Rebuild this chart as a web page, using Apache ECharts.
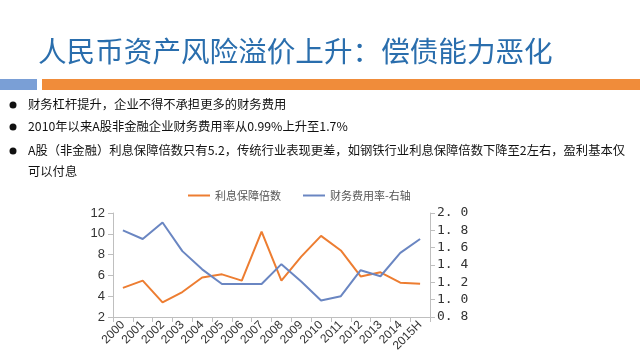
<!DOCTYPE html>
<html><head><meta charset="utf-8">
<script src="https://cdn.jsdelivr.net/npm/echarts@6/dist/echarts.min.js"></script>
<style>html,body{margin:0;padding:0;background:#fff}#c{width:640px;height:360px}</style>
</head><body><div id="c"></div>
<script>
const categories = ['2000','2001','2002','2003','2004','2005','2006','2007','2008','2009','2010','2011','2012','2013','2014','2015H'];
const interestCoverage = [4.8,5.5,3.4,4.4,5.8,6.1,5.5,10.2,5.5,7.8,9.8,8.4,5.9,6.3,5.3,5.2];
const financeCostRate = [1.80,1.70,1.89,1.56,1.35,1.18,1.18,1.18,1.41,1.21,0.99,1.04,1.34,1.27,1.54,1.70];
const seriesNames = ['利息保障倍数','财务费用率-右轴'];
const titleText = '人民币资产风险溢价上升：偿债能力恶化';
const bullets = ['财务杠杆提升，企业不得不承担更多的财务费用','2010年以来A股非金融企业财务费用率从0.99%上升至1.7%','A股（非金融）利息保障倍数只有5.2，传统行业表现更差，如钢铁行业利息保障倍数下降至2左右，盈利基本仅','可以付息'];

const font = '"Noto Sans CJK SC","Noto Sans",sans-serif';
const chart = echarts.init(document.getElementById('c'));
const bulletY = [105,127,151,172];
const graphics = [
  {type:'text', left:38, top:37, style:{text:titleText, font:'28.6px '+font, fill:'#2a6ead'}},
  {type:'rect', shape:{x:0,y:79,width:37,height:11}, style:{fill:'#7a9fd6'}},
  {type:'rect', shape:{x:42,y:79,width:598,height:11}, style:{fill:'#f08c3a'}}
];
bullets.forEach((t,i)=>{
  graphics.push({type:'text', left:28, top:bulletY[i]-7, style:{text:t, font:'12.3px '+font, fill:'#111'}});
  if(i<3) graphics.push({type:'circle', shape:{cx:13, cy:bulletY[i], r:3.5}, style:{fill:'#111'}});
});
chart.setOption({
  animation:false,
  backgroundColor:'#fff',
  graphic: graphics,
  legend:{top:185, left:183, itemWidth:22, itemHeight:2, itemGap:22, icon:'rect',
    textStyle:{fontFamily:font, fontSize:11, color:'#555'}, data:seriesNames},
  grid:{left:113, right:210, top:213, bottom:43},
  xAxis:{type:'category', data:categories, boundaryGap:true,
    axisLine:{lineStyle:{color:'#bfbfbf'}}, axisTick:{show:true, lineStyle:{color:'#bfbfbf'}},
    axisLabel:{rotate:45, fontSize:12, color:'#333', fontFamily:'Liberation Sans, Arial', margin:6, interval:0}},
  yAxis:[
    {type:'value', min:2, max:12, interval:2, splitLine:{show:false},
     axisLine:{show:true, lineStyle:{color:'#bfbfbf'}}, axisTick:{show:true, lineStyle:{color:'#bfbfbf'}},
     axisLabel:{fontSize:13, color:'#333', fontFamily:'Liberation Sans, Arial', margin:8}},
    {type:'value', min:0.8, max:2.0, interval:0.2, splitLine:{show:false},
     axisLine:{show:true, lineStyle:{color:'#bfbfbf'}}, axisTick:{show:true, lineStyle:{color:'#bfbfbf'}},
     axisLabel:{fontSize:13, color:'#333', fontFamily:'DejaVu Sans Mono, monospace', margin:7,
       formatter:v=>v.toFixed(1).replace('.', '. ')}}
  ],
  series:[
    {name:seriesNames[0], type:'line', yAxisIndex:0, data:interestCoverage, symbol:'none',
     lineStyle:{color:'#ed7d31', width:2}, itemStyle:{color:'#ed7d31'}},
    {name:seriesNames[1], type:'line', yAxisIndex:1, data:financeCostRate, symbol:'none',
     lineStyle:{color:'#6a86c2', width:2}, itemStyle:{color:'#6a86c2'}}
  ]
});
</script></body></html>
